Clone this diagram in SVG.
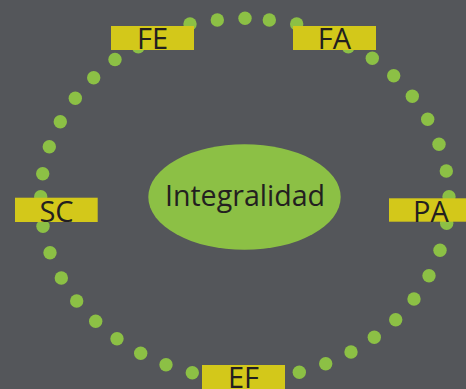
<svg xmlns="http://www.w3.org/2000/svg" width="466" height="389" viewBox="0 0 466 389">
  <style>
    .dot { fill: #8CC045; }
    .lbl { fill: #D3C81A; }
    .lt { font-family: "Open Sans", "Liberation Sans", sans-serif; font-size: 29px; fill: #231F20; text-anchor: middle; }
    .ct { font-family: "Open Sans", "Liberation Sans", sans-serif; font-size: 28.6px; fill: #231F20; text-anchor: middle; }
  </style>
  <rect x="0" y="0" width="466" height="389" fill="#54565A"/>
  <g id="ring">
    <circle class="dot" cx="115" cy="59.5" r="6.7"/>
    <circle class="dot" cx="138.3" cy="46.7" r="6.7"/>
    <circle class="dot" cx="164" cy="34" r="6.7"/>
    <circle class="dot" cx="190" cy="24" r="6.7"/>
    <circle class="dot" cx="217.3" cy="20" r="6.7"/>
    <circle class="dot" cx="245" cy="18.3" r="6.7"/>
    <circle class="dot" cx="269.3" cy="20" r="6.7"/>
    <circle class="dot" cx="296.7" cy="24" r="6.7"/>
    <circle class="dot" cx="322" cy="33.5" r="6.7"/>
    <circle class="dot" cx="348.3" cy="46.7" r="6.7"/>
    <circle class="dot" cx="372.3" cy="58.3" r="6.7"/>
    <circle class="dot" cx="393.7" cy="75.7" r="6.7"/>
    <circle class="dot" cx="412.3" cy="96.3" r="6.7"/>
    <circle class="dot" cx="427.7" cy="119.3" r="6.7"/>
    <circle class="dot" cx="439" cy="144.3" r="6.7"/>
    <circle class="dot" cx="446.3" cy="171" r="6.7"/>
    <circle class="dot" cx="449" cy="196.7" r="6.7"/>
    <circle class="dot" cx="446.7" cy="223.3" r="6.7"/>
    <circle class="dot" cx="440" cy="250.3" r="6.7"/>
    <circle class="dot" cx="429" cy="275.7" r="6.7"/>
    <circle class="dot" cx="414" cy="299" r="6.7"/>
    <circle class="dot" cx="395.7" cy="319.7" r="6.7"/>
    <circle class="dot" cx="374.3" cy="337.3" r="6.7"/>
    <circle class="dot" cx="351" cy="352" r="6.7"/>
    <circle class="dot" cx="325.7" cy="363.7" r="6.7"/>
    <circle class="dot" cx="299.3" cy="372.3" r="6.7"/>
    <circle class="dot" cx="272.5" cy="378" r="6.7"/>
    <circle class="dot" cx="246" cy="380" r="6.7"/>
    <circle class="dot" cx="219" cy="378" r="6.7"/>
    <circle class="dot" cx="192.3" cy="372.7" r="6.7"/>
    <circle class="dot" cx="166" cy="364.7" r="6.7"/>
    <circle class="dot" cx="140.7" cy="353.3" r="6.7"/>
    <circle class="dot" cx="117" cy="338.7" r="6.7"/>
    <circle class="dot" cx="95.7" cy="321.3" r="6.7"/>
    <circle class="dot" cx="76.7" cy="301" r="6.7"/>
    <circle class="dot" cx="61.3" cy="278" r="6.7"/>
    <circle class="dot" cx="50" cy="252.7" r="6.7"/>
    <circle class="dot" cx="43" cy="226.3" r="6.7"/>
    <circle class="dot" cx="40.7" cy="196.7" r="6.7"/>
    <circle class="dot" cx="42.7" cy="173.7" r="6.7"/>
    <circle class="dot" cx="49.3" cy="146.7" r="6.7"/>
    <circle class="dot" cx="60.3" cy="121.7" r="6.7"/>
    <circle class="dot" cx="75.3" cy="98.3" r="6.7"/>
    <circle class="dot" cx="93.7" cy="77.7" r="6.7"/>
  </g>
  <g id="connectors"></g>
  <g id="integralidad">
    <ellipse cx="244.5" cy="197" rx="96.2" ry="52.8" class="dot"/>
    <text class="ct" x="245" y="205.7">Integralidad</text>
  </g>
  <g id="FE">
    <rect class="lbl" x="111" y="26" width="83" height="24"/>
    <text class="lt" x="152.5" y="49.3">FE</text>
  </g>
  <g id="FA">
    <rect class="lbl" x="293" y="26" width="83" height="24"/>
    <text class="lt" x="334.5" y="49.3">FA</text>
  </g>
  <g id="SC">
    <rect class="lbl" x="15" y="197.7" width="82.7" height="24.3"/>
    <text class="lt" x="56.5" y="221.5">SC</text>
  </g>
  <g id="PA">
    <rect class="lbl" x="389" y="198.3" width="83" height="23.4"/>
    <text class="lt" x="431" y="221.5">PA</text>
  </g>
  <g id="EF">
    <rect class="lbl" x="202" y="365" width="83" height="24"/>
    <text class="lt" x="243.5" y="388.3">EF</text>
  </g>
</svg>
